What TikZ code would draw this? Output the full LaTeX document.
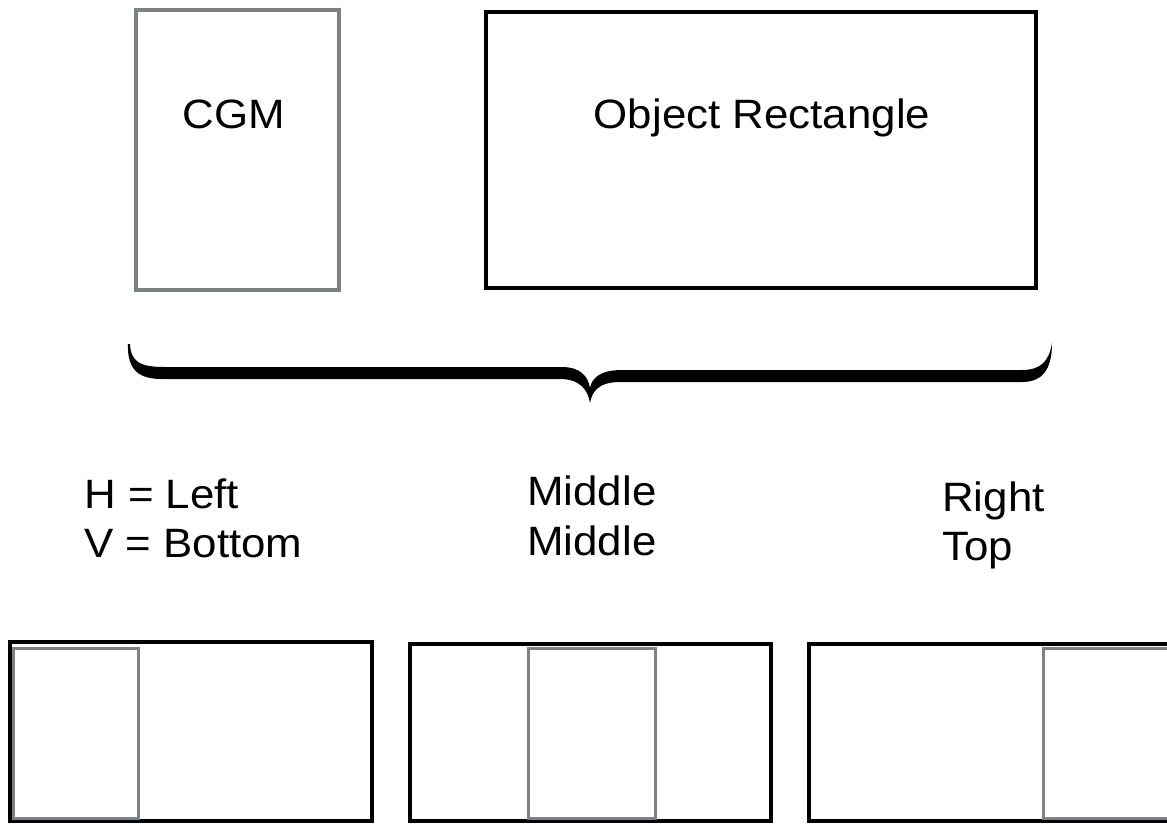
\documentclass[tikz,border=0pt]{standalone}
\usepackage{fontspec}
\setmainfont[FakeStretch=1.07]{Liberation Sans}
\definecolor{boxgray}{RGB}{124,129,134}
\begin{document}
\begin{tikzpicture}[x=1pt,y=-1pt,
  cgmbox/.style={draw=boxgray,line width=4.2pt,rectangle,inner sep=0pt},
  objbox/.style={draw=black,line width=4.6pt,rectangle,inner sep=0pt},
  outbox/.style={draw=black,line width=4pt,rectangle,inner sep=0pt},
  inbox/.style={draw=boxgray,line width=3pt,rectangle,inner sep=0pt},
  lbl/.style={inner sep=0pt,font=\fontsize{41}{50}\selectfont}]
\useasboundingbox (0,0) rectangle (1167,823);
% top boxes
\node[cgmbox,minimum width=203pt,minimum height=280pt] (cgm) at (237.5,150) {};
\node[objbox,minimum width=550pt,minimum height=276pt] (obj) at (761,150) {};
\node[lbl,anchor=base] (cgmtxt) at (234,128) {CGM};
\node[lbl,anchor=base] (objtxt) at (762,128) {Object Rectangle};
% brace
\fill[black] (128,344) .. controls (127,371) and (140,379) .. (162,379) -- (560,379)
  .. controls (580,379) and (588,390) .. (590,403)
  .. controls (592,392) and (598,382) .. (620,382) -- (1022,382)
  .. controls (1042,382) and (1052,370) .. (1052,343)
  .. controls (1049,362) and (1040,370) .. (1022,370) -- (622,370)
  .. controls (600,370) and (592,378) .. (590,388)
  .. controls (588,376) and (580,367) .. (562,367) -- (165,367)
  .. controls (140,367) and (131,362) .. (130,344) -- cycle;
% labels
\node[lbl,anchor=base west] (h1) at (84,508) {H = Left};
\node[lbl,anchor=base west] (v1) at (84,557) {V = Bottom};
\node[lbl,anchor=base west] (h2) at (527,505) {Middle};
\node[lbl,anchor=base west] (v2) at (527,555) {Middle};
\node[lbl,anchor=base west] (h3) at (942,511) {Right};
\node[lbl,anchor=base west] (v3) at (942,560) {Top};
% bottom boxes
\node[outbox,minimum width=362.5pt,minimum height=179pt] (b1) at (190.75,731.5) {};
\node[outbox,minimum width=361pt,minimum height=177pt] (b2) at (590.5,732.5) {};
\node[outbox,minimum width=362pt,minimum height=177pt] (b3) at (990,732.5) {};
\node[inbox,minimum width=125pt,minimum height=170pt] (g1) at (75.5,733) {};
\node[inbox,minimum width=127pt,minimum height=170pt] (g2) at (591.5,733) {};
\node[inbox,minimum width=125pt,minimum height=170pt] (g3) at (1105.5,733) {};
\end{tikzpicture}
\end{document}
